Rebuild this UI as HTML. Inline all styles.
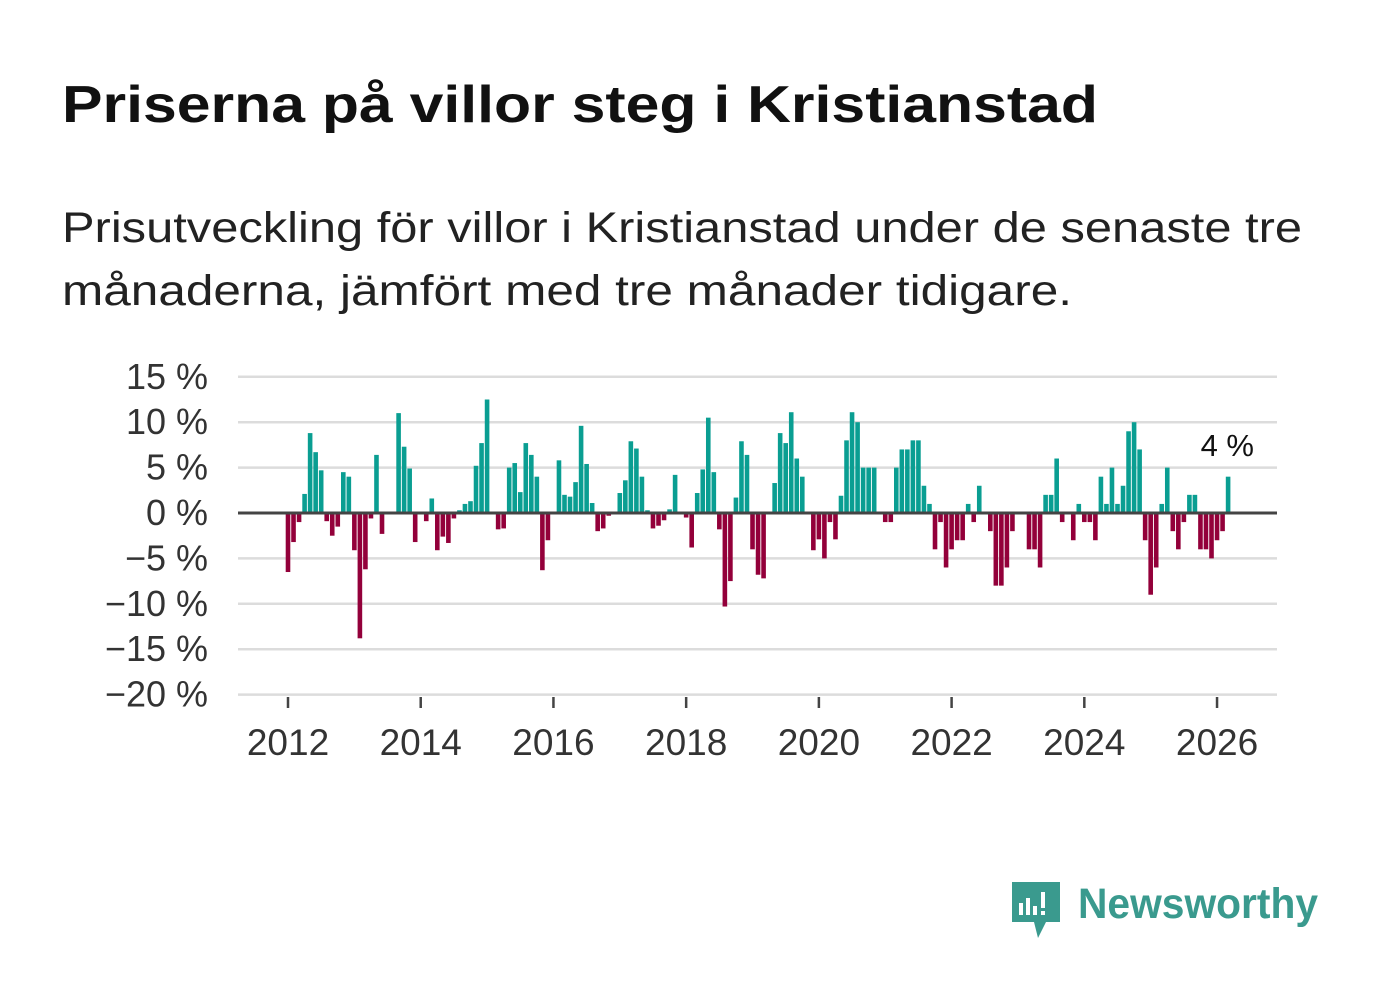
<!DOCTYPE html>
<html><head><meta charset="utf-8"><style>
html,body{margin:0;padding:0;background:#fff;}
svg{display:block;font-family:"Liberation Sans",sans-serif;}
</style></head><body>
<svg id="chart" width="1382" height="999" viewBox="0 0 1382 999" xmlns="http://www.w3.org/2000/svg">
<rect width="1382" height="999" fill="#fff"/>
<text x="62" y="122" font-size="52" font-weight="bold" fill="#111" textLength="1036" lengthAdjust="spacingAndGlyphs">Priserna på villor steg i Kristianstad</text>
<text x="62" y="242" font-size="43" fill="#222" textLength="1240" lengthAdjust="spacingAndGlyphs">Prisutveckling för villor i Kristianstad under de senaste tre</text>
<text x="62" y="305" font-size="43" fill="#222" textLength="1010" lengthAdjust="spacingAndGlyphs">månaderna, jämfört med tre månader tidigare.</text>
<g id="grid"></g><g id="bars"></g><g id="axes"></g>
<text x="1254" y="456" font-size="31" fill="#111" text-anchor="end">4 %</text>
<g>
<path d="M1012 882 h48 v40 h-14 l-8 16 l-4 -16 h-22 z" fill="#3a9a8e"/>
<rect x="1019" y="903" width="4" height="12" fill="#fff"/><rect x="1026" y="898" width="4" height="17" fill="#fff"/><rect x="1033" y="906" width="4" height="9" fill="#fff"/><rect x="1041" y="892" width="4" height="16" fill="#fff"/><rect x="1041" y="911" width="4" height="4" fill="#fff"/>
<text x="1078" y="918" font-size="43" font-weight="bold" fill="#3a9a8e" textLength="240" lengthAdjust="spacingAndGlyphs">Newsworthy</text>
</g>
</svg>
<script>
const startYear = 2012;
const values = [-6.5,-3.2,-1.0,2.1,8.8,6.7,4.7,-0.9,-2.5,-1.5,
4.5,4.0,-4.1,-13.8,-6.2,-0.6,6.4,-2.3,0,0,
11.0,7.3,4.9,-3.2,0,-0.9,1.6,-4.1,-2.6,-3.3,
-0.6,0.3,1.0,1.3,5.2,7.7,12.5,0,-1.8,-1.7,
5.0,5.5,2.3,7.7,6.4,4.0,-6.3,-3.0,0,5.8,
2.0,1.8,3.4,9.6,5.4,1.1,-2.0,-1.7,-0.3,0,
2.2,3.6,7.9,7.1,4.0,0.3,-1.7,-1.4,-0.8,0.4,
4.2,0,-0.5,-3.8,2.2,4.8,10.5,4.5,-1.8,-10.3,
-7.5,1.7,7.9,6.4,-4.0,-6.8,-7.2,0,3.3,8.8,
7.7,11.1,6.0,4.0,0,-4.1,-2.9,-5.0,-1.0,-2.9,
1.9,8.0,11.1,10.0,5.0,5.0,5.0,0,-1,-1,
5.0,7.0,7.0,8.0,8.0,3.0,1.0,-4.0,-1.0,-6.0,
-4.0,-3.0,-3.0,1.0,-1.0,3.0,0,-2.0,-8.0,-8.0,
-6.0,-2.0,0,0,-4.0,-4.0,-6.0,2.0,2.0,6.0,
-1.0,0,-3.0,1.0,-1.0,-1.0,-3.0,4.0,1.0,5.0,
1.0,3.0,9.0,10.0,7.0,-3.0,-9.0,-6.0,1.0,5.0,
-2,-4,-1,2,2,-4,-4,-5,-3,-2,4];
const yTicks = [15,10,5,0,-5,-10,-15,-20];
const yTickLabels = ["15 %","10 %","5 %","0 %","−5 %","−10 %","−15 %","−20 %"];
const xTicks = [2012,2014,2016,2018,2020,2022,2024,2026];

const NS = "http://www.w3.org/2000/svg";
const y = v => 513 - v * 9.08;
const x = yr => 288 + (yr - 2012) * 66.36;
function mk(tag, attrs, parent){const e=document.createElementNS(NS,tag);for(const k in attrs)e.setAttribute(k,attrs[k]);document.getElementById(parent).appendChild(e);return e;}

yTicks.forEach((t,i)=>{
  if(t!==0){
    const g = mk('line',{x1:238,x2:1277,y1:y(t),y2:y(t),stroke:'#dcdcdc','stroke-width':2.5},'grid');
    
    
  }
  const l = mk('text',{x:208,y:y(t)+12,'font-size':36,fill:'#333','text-anchor':'end'},'axes');
  l.textContent = yTickLabels[i];
  
  
});
values.forEach((v,i)=>{
  if(v===0) return;
  const cx = x(startYear + i/12);
  const r = mk('rect',{x:cx-2.3,width:4.6,y:Math.min(y(v),y(0)),height:Math.abs(y(v)-y(0)),fill:v>0?'#0a9e92':'#93003a'},'bars');
  
  
});
const zl = mk('line',{x1:238,x2:1277,y1:y(0),y2:y(0),stroke:'#444','stroke-width':3},'axes');


xTicks.forEach(t=>{
  const tk = mk('line',{x1:x(t),x2:x(t),y1:697,y2:708,stroke:'#444','stroke-width':2.5},'axes');
  
  
  const l = mk('text',{x:x(t),y:755,'font-size':37,fill:'#333','text-anchor':'middle'},'axes');
  l.textContent = t;
  
  
});
</script>
</body></html>
